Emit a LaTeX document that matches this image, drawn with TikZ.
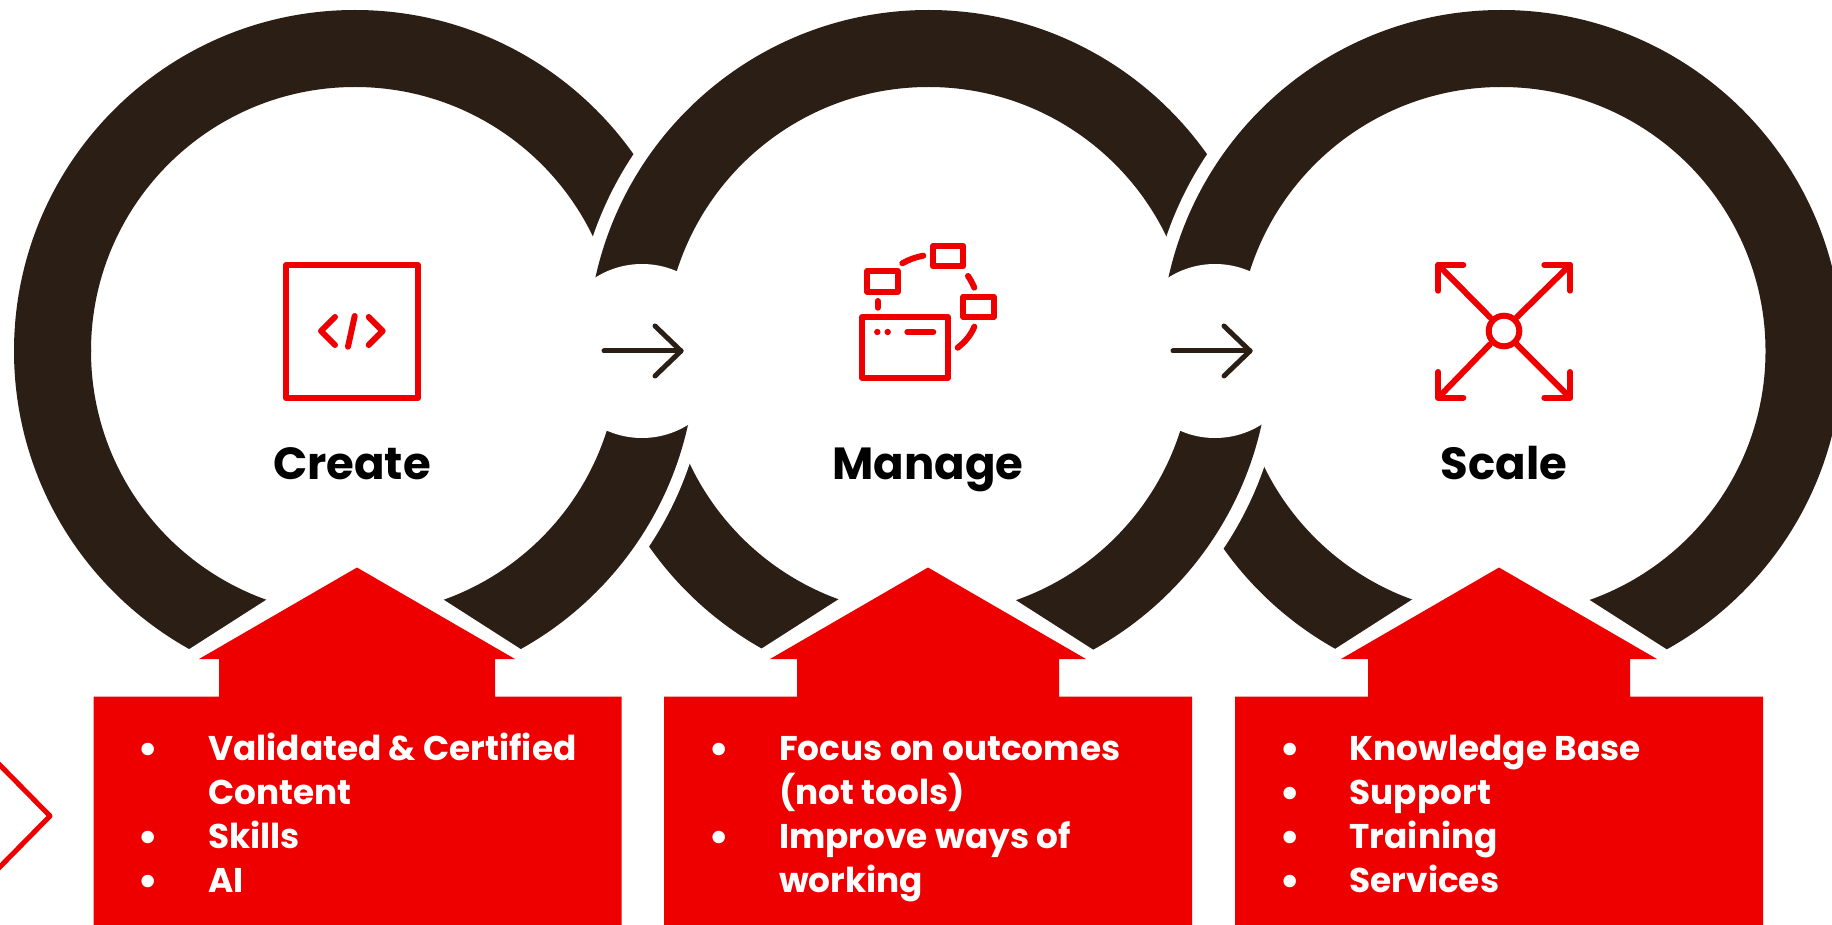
\documentclass[tikz,border=0pt]{standalone}
\usepackage{fontspec}
\usepackage{xcolor}
\setmainfont{Poppins}
\newfontfamily\dotfont{DejaVu Sans}
\definecolor{hatred}{HTML}{EE0000}
\definecolor{ringbrown}{HTML}{2B1F15}

\begin{document}
\begin{tikzpicture}[x=1pt,y=-1pt,
    ringfill/.style={fill=ringbrown,even odd rule},
    iconline/.style={draw=hatred,line width=6pt,line cap=round,line join=round},
    flowline/.style={draw=ringbrown,line width=5pt,line cap=round,line join=round},
    titletext/.style={anchor=base,inner sep=0pt,text=black,font=\fontsize{45}{45}\selectfont\bfseries},
    listtext/.style={anchor=base west,inner sep=0pt,text=white,font=\fontsize{34.3}{44}\selectfont\bfseries},
    listdot/.style={anchor=base,inner sep=0pt,text=white,font=\dotfont\fontsize{43}{43}\selectfont}]
        \useasboundingbox (0,0) rectangle (1832,925);
        \clip (0,0) rectangle (1832,925);
        \fill[white] (0,0) rectangle (1832,925);

        % lower halves of the rings
        \begin{scope}
            \clip (0,351) rectangle (1832,925);
            \fill[ringfill] (1501.5,351) circle[radius=341] (1501.5,351) circle[radius=264];
            \fill[white] (928.5,351) circle[radius=355];
            \fill[ringfill] (928.5,351) circle[radius=341] (928.5,351) circle[radius=264];
            \fill[white] (355,351) circle[radius=353];
            \fill[ringfill] (355,351) circle[radius=341] (355,351) circle[radius=264];
        \end{scope}
        % upper halves of the rings
        \begin{scope}
            \clip (0,0) rectangle (1832,352);
            \fill[ringfill] (355,351) circle[radius=341] (355,351) circle[radius=264];
            \fill[white] (928.5,351) circle[radius=354.5];
            \fill[ringfill] (928.5,351) circle[radius=341] (928.5,351) circle[radius=264];
            \fill[white] (1501.5,351) circle[radius=354];
            \fill[ringfill] (1501.5,351) circle[radius=341] (1501.5,351) circle[radius=264];
        \end{scope}
        \fill[white] (642,351) circle[radius=87];
        \fill[white] (1215,351) circle[radius=87];

        % gaps above the red arrows
        \fill[white] (152,673) -- (355,543) -- (558,673) -- (558,700) -- (152,700) -- cycle;
        \fill[white] (723.5,673) -- (926.5,543) -- (1129.5,673) -- (1129.5,700) -- (723.5,700) -- cycle;
        \fill[white] (1297.5,673) -- (1500.5,543) -- (1703.5,673) -- (1703.5,700) -- (1297.5,700) -- cycle;

        % red arrows with their boxes
        \fill[hatred] (357,567.5) -- (515,659) -- (495,659) -- (495,696.5) -- (621.5,696.5) -- (621.5,925)
            -- (93.5,925) -- (93.5,696.5) -- (219,696.5) -- (219,659) -- (199,659) -- cycle;
        \fill[hatred] (928,567.5) -- (1086,659) -- (1059,659) -- (1059,696.5) -- (1192,696.5) -- (1192,925)
            -- (664,925) -- (664,696.5) -- (797,696.5) -- (797,659) -- (770,659) -- cycle;
        \fill[hatred] (1499,567.5) -- (1657,659) -- (1630,659) -- (1630,696.5) -- (1763,696.5) -- (1763,925)
            -- (1235,925) -- (1235,696.5) -- (1368,696.5) -- (1368,659) -- (1341,659) -- cycle;

        % chevron at the left edge
        \draw[draw=hatred,line width=5pt,line join=round] (-10,755) -- (50,816) -- (-10,877);

        % flow arrows
        \coordinate (flowa) at (604,351);
        \coordinate (flowb) at (681,351);
        \coordinate (flowc) at (1173,351);
        \coordinate (flowd) at (1250,351);
        \draw[flowline] (flowa) -- (flowb);
        \draw[flowline] (655,326) -- (flowb) -- (655,376);
        \draw[flowline] (flowc) -- (flowd);
        \draw[flowline] (1224,326) -- (flowd) -- (1224,376);

        % create icon
        \draw[iconline] (286,265) rectangle (418,398);
        \draw[iconline] (335,317) -- (321,331) -- (335,345);
        \draw[iconline] (354.7,316) -- (348,346.7);
        \draw[iconline] (368.7,317) -- (382.7,331) -- (368.7,345);

        % manage icon
        \draw[iconline] (862.3,317) rectangle (948,378);
        \fill[hatred] (877.3,332) circle[radius=3.2];
        \fill[hatred] (887.7,332) circle[radius=3.2];
        \draw[iconline] (907.3,332) -- (933.3,332);
        \draw[iconline] (867.3,271.3) rectangle (897.7,291.7);
        \draw[iconline] (933,246) rectangle (963.3,266.3);
        \draw[iconline] (963.3,296.7) rectangle (993.7,317);
        \draw[iconline] (877.7,301) -- (877.7,307.7);
        \draw[iconline] (902.3,263.3) .. controls (909,259.5) and (916,257) .. (923.3,255.7);
        \draw[iconline] (968,276) .. controls (970.5,279.5) and (972.5,283.5) .. (974.3,287.7);
        \draw[iconline] (974.3,326.7) .. controls (971,335) and (965,342) .. (957.7,347.7);

        % scale icon
        \draw[iconline] (1490,317.3) -- (1438.3,265);
        \draw[iconline] (1463.3,265) -- (1438.3,265) -- (1438.3,290.7);
        \draw[iconline] (1516.7,317.3) -- (1570,265);
        \draw[iconline] (1544.3,265) -- (1570,265) -- (1570,290.7);
        \draw[iconline] (1490,344.3) -- (1438.3,397.7);
        \draw[iconline] (1463.3,397.7) -- (1438.3,397.7) -- (1438.3,372);
        \draw[iconline] (1516.7,344.3) -- (1570,397.7);
        \draw[iconline] (1544.3,397.7) -- (1570,397.7) -- (1570,372);
        \draw[iconline] (1504,331) circle[radius=15.3];

        % titles
        \node[titletext] (create) at (352,479.5) {Create};
        \node[titletext] (manage) at (928,479.5) {Manage};
        \node[titletext] (scale) at (1504,479.5) {Scale};

        % lists
        \node[listdot] (dota) at (148.5,765.5) {•};
        \node[listtext] (itema) at (208,760) {Validated \& Certified};
        \node[listtext] (itemb) at (208,804) {Content};
        \node[listdot] (dotb) at (148.5,853.5) {•};
        \node[listtext] (itemc) at (208,848) {Skills};
        \node[listdot] (dotc) at (148.5,897.5) {•};
        \node[listtext] (itemd) at (208,892) {AI};

        \node[listdot] (dotd) at (719.5,765.5) {•};
        \node[listtext] (iteme) at (779,760) {Focus on outcomes};
        \node[listtext] (itemf) at (779,804) {(not tools)};
        \node[listdot] (dote) at (719.5,853.5) {•};
        \node[listtext] (itemg) at (779,848) {Improve ways of};
        \node[listtext] (itemh) at (779,892) {working};

        \node[listdot] (dotf) at (1290,765.5) {•};
        \node[listtext] (itemi) at (1349.5,760) {Knowledge Base};
        \node[listdot] (dotg) at (1290,809.5) {•};
        \node[listtext] (itemj) at (1349.5,804) {Support};
        \node[listdot] (doth) at (1290,853.5) {•};
        \node[listtext] (itemk) at (1349.5,848) {Training};
        \node[listdot] (doti) at (1290,897.5) {•};
        \node[listtext] (iteml) at (1349.5,892) {Services};
    \end{tikzpicture}
\end{document}
